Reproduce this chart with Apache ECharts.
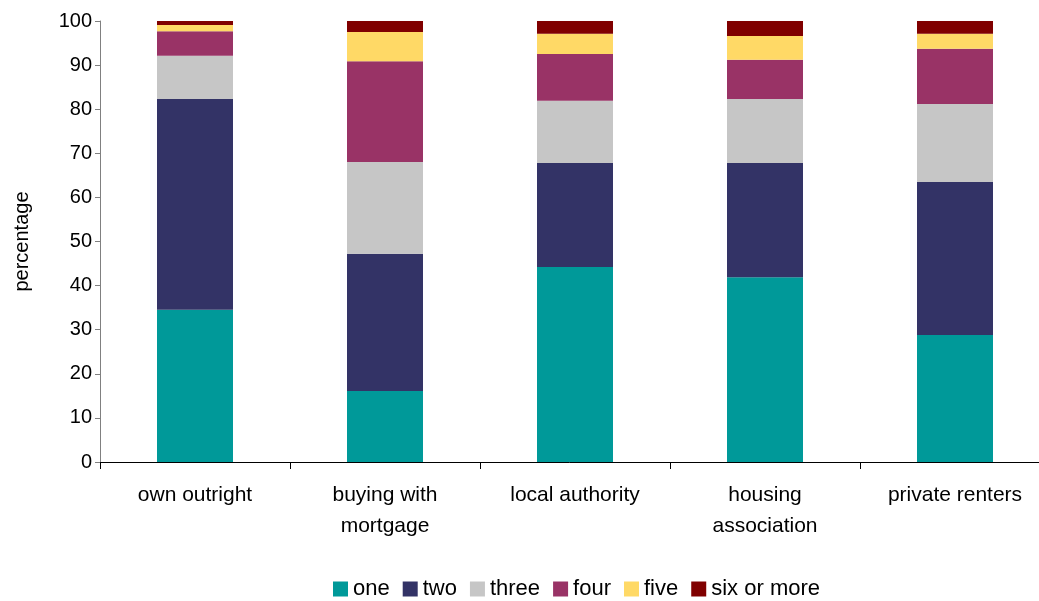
<!DOCTYPE html>
<html>
<head>
<meta charset="utf-8">
<script src="https://cdn.jsdelivr.net/npm/echarts@6/dist/echarts.min.js"></script>
<style>
  html, body { margin: 0; padding: 0; background: #fff; }
  #chart { width: 1039px; height: 601px; }
</style>
</head>
<body>
<div id="chart"></div>
<script>
// tenure categories
const categories = ["own outright", "buying with\nmortgage", "local authority", "housing\nassociation", "private renters"];
const seriesNames = ["one", "two", "three", "four", "five", "six or more"];

// percentages per category
const one = [34.5, 16.1, 44.2, 41.9, 28.8];
const two = [47.8, 31.1, 23.6, 25.9, 34.7];
const three = [9.8, 20.8, 14.1, 14.5, 17.7];
const four = [5.6, 22.9, 10.6, 8.9, 12.5];
const five = [1.4, 6.6, 4.6, 5.4, 3.4];
const sixOrMore = [0.9, 2.5, 2.9, 3.4, 2.9];

const yTicks = [0, 10, 20, 30, 40, 50, 60, 70, 80, 90, 100];

const colors = ["#009999", "#333366", "#C6C6C6", "#993366", "#FFD966", "#800000"];
const values = [one, two, three, four, five, sixOrMore];

const chart = echarts.init(document.getElementById("chart"));

const font = "Liberation Sans, Arial, sans-serif";

const option = {
  animation: false,
  textStyle: { fontFamily: font },
  grid: {
    left: 100,
    width: 950,
    top: 21,
    height: 441,
    outerBoundsMode: "none",
  },
  legend: {
    top: 573,
    left: 328,
    itemWidth: 15,
    itemHeight: 15,
    itemGap: 13,
    icon: "rect",
    textStyle: { fontSize: 22, color: "#000", fontFamily: font },
    data: seriesNames,
  },
  xAxis: {
    type: "category",
    data: categories,
    axisLine: { lineStyle: { color: "#000", width: 1 } },
    axisTick: { show: true, length: 7, lineStyle: { color: "#000" } },
    axisLabel: {
      fontSize: 21,
      color: "#000",
      margin: 18,
      lineHeight: 31,
      fontFamily: font,
    },
  },
  yAxis: {
    type: "value",
    min: yTicks[0],
    max: yTicks[yTicks.length - 1],
    interval: 10,
    name: "percentage",
    nameLocation: "middle",
    nameGap: 68,
    nameRotate: 90,
    nameTextStyle: { fontSize: 20, color: "#000", fontFamily: font },
    splitLine: { show: false },
    axisLine: { show: true, lineStyle: { color: "#808080" } },
    axisTick: { show: true, inside: false, length: 5, lineStyle: { color: "#808080" } },
    axisLabel: { fontSize: 20, color: "#000", margin: 8, fontFamily: font },
  },
  series: seriesNames.map((name, i) => ({
    name: name,
    type: "bar",
    stack: "total",
    barWidth: "40%",
    data: values[i],
    itemStyle: { color: colors[i] },
  })),
};

chart.setOption(option);
</script>
</body>
</html>
